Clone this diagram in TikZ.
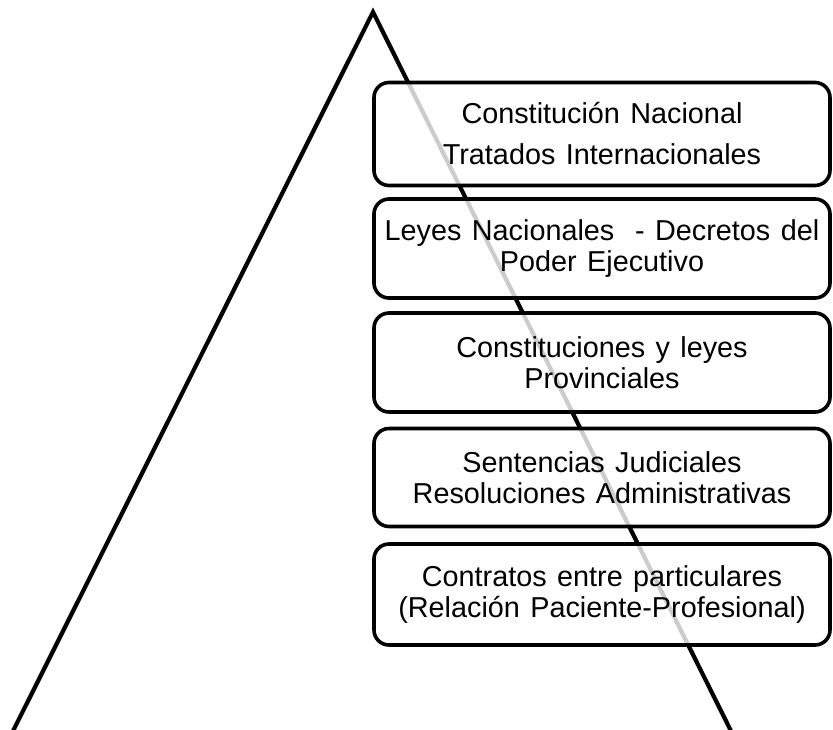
\documentclass[tikz,border=0pt]{standalone}
\usepackage{fontspec}
\setmainfont{Liberation Sans}[WordSpace=1.3]
\begin{document}
\begin{tikzpicture}[x=1pt,y=-1pt,
  tier/.style={draw=black, line width=3.6pt, rounded corners=15pt,
    fill=white, fill opacity=0.8, draw opacity=1, text opacity=1,
    minimum width=456pt, align=center, inner sep=0pt,
    font=\fontsize{28.8}{30.5}\selectfont},
  side/.style={line width=4.2pt, black}]
\useasboundingbox (0,0) rectangle (833,729);
\coordinate (apex) at (373,12);
\coordinate (bl) at (11,735);
\coordinate (br) at (733,735);
\draw[side, line join=miter] (bl) -- (apex) -- (br);
\node[tier, minimum height=103pt, font=\fontsize{28.8}{41}\selectfont] (b1) at (602,134) {Constitución Nacional\\Tratados Internacionales};
\node[tier, minimum height=99pt] (b2) at (602,248.5) {Leyes Nacionales \ - Decretos del\\Poder Ejecutivo};
\node[tier, minimum height=99pt] (b3) at (602,362.5) {Constituciones y leyes\\Provinciales};
\node[tier, minimum height=98pt] (b4) at (602,477.5) {Sentencias Judiciales\\Resoluciones Administrativas};
\node[tier, minimum height=101pt] (b5) at (602,594.5) {Contratos entre particulares\\(Relación Paciente-Profesional)};
\end{tikzpicture}
\end{document}
